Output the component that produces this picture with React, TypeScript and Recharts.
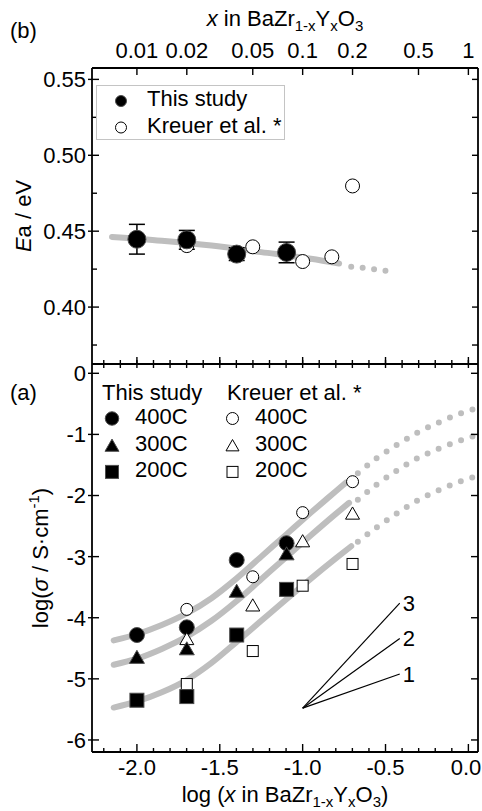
import React from "react";
import { ComposedChart, Line, Scatter, XAxis, YAxis, ErrorBar, Legend } from "recharts";

const W = 482;
const H = 811;
const FONT = "'Liberation Sans', Arial, Helvetica, sans-serif";
const FS = 22;
const GREY = "#bebebe";

// x in BaZr(1-x)Y(x)O3
const studyX = [0.01, 0.02, 0.04, 0.08];
const kreuerEaX = [0.02, 0.05, 0.1, 0.15, 0.2];
const kreuerSigX = [0.02, 0.05, 0.1, 0.2];

// (b) activation energy / eV
const studyEa = [0.4447, 0.4443, 0.4349, 0.436];
const studyEaErr = [0.0098, 0.0062, 0.0042, 0.0068];
const kreuerEa = [0.4405, 0.4397, 0.43, 0.4331, 0.4798];

// (b) grey guide line (log x)
const eaFitX = [-2.15, -1.85, -1.55, -1.25, -0.95, -0.78];
const eaFit = [0.4462, 0.4437, 0.4405, 0.4362, 0.4318, 0.4287];
const eaDotX = [-0.707, -0.6, -0.49];
const eaDot = [0.4266, 0.4254, 0.4237];

// (a) log(sigma / S cm-1)
const study400 = [-4.283, -4.157, -3.056, -2.78];
const study300 = [-4.64, -4.5, -3.558, -2.946];
const study200 = [-5.35, -5.29, -4.283, -3.536];
const kreuer400 = [-3.863, -3.33, -2.28, -1.774];
const kreuer300 = [-4.34, -3.79, -2.74, -2.287];
const kreuer200 = [-5.085, -4.545, -3.476, -3.12];

// (a) grey fits, solid part
const fit400X = [-2.14, -2.0, -1.85, -1.7, -1.55, -1.4, -1.25, -1.1, -0.95, -0.8, -0.74];
const fit400 = [-4.37, -4.27, -4.12, -3.93, -3.68, -3.36, -3.0, -2.64, -2.28, -1.93, -1.79];
const fit300X = [-2.14, -2.0, -1.85, -1.7, -1.55, -1.4, -1.25, -1.1, -0.95, -0.8, -0.72];
const fit300 = [-4.77, -4.67, -4.51, -4.31, -4.05, -3.73, -3.37, -3.01, -2.65, -2.3, -2.12];
const fit200X = [-2.14, -2.0, -1.85, -1.7, -1.55, -1.4, -1.25, -1.1, -0.95, -0.8, -0.707];
const fit200 = [-5.47, -5.37, -5.22, -5.02, -4.74, -4.4, -4.05, -3.7, -3.36, -3.03, -2.83];

// (a) grey fits, dotted extrapolation
const dotX = [-0.667, -0.553, -0.43, -0.3, -0.175, -0.05, 0.04];
const dot400 = [-1.637, -1.39, -1.17, -0.96, -0.8, -0.66, -0.58];
const dot300 = [-2.07, -1.82, -1.59, -1.38, -1.23, -1.1, -1.02];
const dot200 = [-2.756, -2.52, -2.29, -2.07, -1.91, -1.77, -1.69];

// slope guide (1, 2, 3)
const slopeTags = ["1", "2", "3"];
const slopeFrom = { x: -1.0, y: -5.48 };
const slopeEndX = -0.414;
const slopeEndY = [-4.92, -4.34, -3.76];

// ticks
const xMajor = [-2.0, -1.5, -1.0, -0.5, 0.0];
const xMinor = [-2.2, -2.1, -1.9, -1.8, -1.7, -1.6, -1.4, -1.3, -1.2, -1.1, -0.9, -0.8, -0.7, -0.6, -0.4, -0.3, -0.2, -0.1];
const topLabels = ["0.01", "0.02", "0.05", "0.1", "0.2", "0.5", "1"];
const eaMajor = [0.4, 0.45, 0.5, 0.55];
const eaMinor = [0.375, 0.425, 0.475, 0.525];
const sigMajor = [0, -1, -2, -3, -4, -5, -6];

const X_DOMAIN: [number, number] = [-2.271, 0.058];
const EA_DOMAIN: [number, number] = [0.3625, 0.5575];
const SIG_DOMAIN: [number, number] = [-6.197, 0.152];

const topTickPos = topLabels.map((s) => Math.log10(Number(s)));
const xAll = [...xMajor, ...xMinor].sort((a, b) => a - b);

const pts = (xs: number[], ys: number[]) => xs.map((x, i) => ({ x, y: ys[i] }));
const logPts = (xs: number[], ys: number[], errs?: number[]) =>
  xs.map((x, i) => ({ x: Math.log10(x), y: ys[i], err: errs ? errs[i] : 0 }));

const isOn = (list: number[], v: number) => list.some((m) => Math.abs(m - v) < 1e-9);

function makeTick(side: string, major: number[], opt: any) {
  return function Tick(p: any) {
    const { x, y, payload, index } = p;
    const v = Number(payload.value);
    const big = isOn(major, v);
    const inn = big ? opt.majorIn : opt.minorIn;
    const out = big ? opt.majorOut || 0 : opt.minorOut || 0;
    const txt = big && opt.label ? opt.label(v, index) : "";
    let line;
    let text = null;
    const ts = { fontFamily: FONT, fontSize: FS, fill: "#000" };
    if (side === "bottom") {
      line = <line x1={x} x2={x} y1={y + out} y2={y - inn} />;
      // keep the last label inside the picture
      if (txt) text = <text x={Math.min(x, W - 16)} y={y + 23} textAnchor="middle" {...ts}>{txt}</text>;
    } else if (side === "top") {
      line = <line x1={x} x2={x} y1={y - out} y2={y + inn} />;
      if (txt) text = <text x={x} y={y - 10} textAnchor="middle" {...ts}>{txt}</text>;
    } else if (side === "left") {
      line = <line x1={x - out} x2={x + inn} y1={y} y2={y} />;
      if (txt) text = <text x={x - 6} y={y} dy="0.36em" textAnchor="end" {...ts}>{txt}</text>;
    } else {
      line = <line x1={x + out} x2={x - inn} y1={y} y2={y} />;
    }
    return (
      <g>
        <g stroke="#000" strokeWidth={1.4}>{line}</g>
        {text}
      </g>
    );
  };
}

function Marker({ kind, filled, cx, cy, s }: any) {
  const fill = filled ? "#000" : "#fff";
  const stroke = filled ? "#4d4d4d" : "#000";
  if (kind === "circle") return <circle cx={cx} cy={cy} r={s / 2} fill={fill} stroke={stroke} strokeWidth={1} />;
  if (kind === "square")
    return <rect x={cx - s / 2} y={cy - s / 2} width={s} height={s} fill={fill} stroke={stroke} strokeWidth={1} />;
  const h = s * 0.87;
  const p = `${cx},${cy - h / 2} ${cx - s / 2},${cy + h / 2} ${cx + s / 2},${cy + h / 2}`;
  return <polygon points={p} fill={fill} stroke={stroke} strokeWidth={1} />;
}

const shape = (kind: string, filled: boolean, s: number) => (p: any) =>
  <Marker kind={kind} filled={filled} s={s} cx={p.cx} cy={p.cy} />;

const frame = { stroke: "#000", strokeWidth: 1.8 };
const axisCommon = {
  type: "number" as const,
  allowDataOverflow: true,
  tickSize: 0,
  tickMargin: 0,
  tickLine: false,
  interval: 0 as const,
  axisLine: frame,
};

function EaLegend() {
  const t = { fontFamily: FONT, fontSize: FS, fill: "#000" };
  return (
    <div style={{ width: 187, height: 53, border: "1px solid #c4c4c4", background: "#fff" }}>
      <svg width={187} height={53}>
        <Marker kind="circle" filled cx={24} cy={15} s={11} />
        <text x={50} y={20} {...t}>This study</text>
        <Marker kind="circle" filled={false} cx={24} cy={41.5} s={11} />
        <text x={50} y={46.5} {...t}>Kreuer et al. *</text>
      </svg>
    </div>
  );
}

function SigmaLegend() {
  const t = { fontFamily: FONT, fontSize: FS, fill: "#000" };
  const rows = ["400C", "300C", "200C"];
  const kinds = ["circle", "triangle", "square"];
  const filledSize = [13.5, 14, 13];
  const openSize = [12, 13, 11];
  return (
    <svg width={290} height={110}>
      <text x={6} y={22} {...t}>This study</text>
      <text x={131} y={22} {...t}>Kreuer et al. *</text>
      {rows.map((r, i) => (
        <g key={r}>
          <Marker kind={kinds[i]} filled cx={16} cy={40.5 + i * 26.7} s={filledSize[i]} />
          <text x={39} y={46 + i * 26.7} {...t}>{r}</text>
          <Marker kind={kinds[i]} filled={false} cx={136.5} cy={40.5 + i * 26.7} s={openSize[i]} />
          <text x={159} y={46 + i * 26.7} {...t}>{r}</text>
        </g>
      ))}
    </svg>
  );
}

function EaPanel() {
  return (
    <ComposedChart width={W} height={H} margin={{ top: 67, right: 3, bottom: H - 364 - 1, left: 91 }}>
      <XAxis
        {...axisCommon}
        xAxisId="top"
        orientation="top"
        dataKey="x"
        height={1}
        domain={X_DOMAIN}
        ticks={topTickPos}
        tick={makeTick("top", topTickPos, { majorIn: 7, label: (_v: number, i: number) => topLabels[i] })}
      />
      <XAxis
        {...axisCommon}
        xAxisId="bot"
        orientation="bottom"
        dataKey="x"
        height={1}
        domain={X_DOMAIN}
        ticks={xMajor}
        tick={makeTick("bottom", xMajor, { majorIn: 7 })}
      />
      <YAxis
        {...axisCommon}
        yAxisId="l"
        orientation="left"
        dataKey="y"
        width={1}
        domain={EA_DOMAIN}
        ticks={[...eaMajor, ...eaMinor]}
        tick={makeTick("left", eaMajor, { majorIn: 7, majorOut: 4, minorIn: 5, label: (v: number) => v.toFixed(2) })}
      />
      <YAxis
        {...axisCommon}
        yAxisId="r"
        orientation="right"
        dataKey="y"
        width={1}
        domain={EA_DOMAIN}
        ticks={[...eaMajor, ...eaMinor]}
        tick={makeTick("right", eaMajor, { majorIn: 6, minorIn: 6 })}
      />
      <Line
        xAxisId="bot"
        yAxisId="l"
        data={pts(eaFitX, eaFit)}
        dataKey="y"
        type="monotone"
        stroke={GREY}
        strokeWidth={6}
        strokeLinecap="round"
        dot={false}
        isAnimationActive={false}
      />
      <Line
        xAxisId="bot"
        yAxisId="l"
        data={pts(eaDotX, eaDot)}
        dataKey="y"
        type="monotone"
        stroke={GREY}
        strokeWidth={6}
        strokeLinecap="round"
        strokeDasharray="0 11.5"
        dot={false}
        isAnimationActive={false}
      />
      <Scatter
        xAxisId="bot"
        yAxisId="l"
        data={logPts(kreuerEaX, kreuerEa)}
        shape={shape("circle", false, 14)}
        isAnimationActive={false}
      />
      <Scatter
        xAxisId="bot"
        yAxisId="l"
        data={logPts(studyX, studyEa, studyEaErr)}
        shape={shape("circle", true, 18)}
        isAnimationActive={false}
      >
        <ErrorBar dataKey="err" direction="y" width={8} stroke="#000" strokeWidth={1.5} isAnimationActive={false} />
      </Scatter>
      <Legend
        layout="vertical"
        align="center"
        verticalAlign="middle"
        content={() => <EaLegend />}
        wrapperStyle={{ left: 96, top: 85, width: "auto", height: "auto" }}
      />
    </ComposedChart>
  );
}

function SigmaPanel() {
  const fitLine = (xs: number[], ys: number[], dotted: boolean, key: string) => (
    <Line
      key={key}
      xAxisId="bot"
      yAxisId="l"
      data={pts(xs, ys)}
      dataKey="y"
      type="monotone"
      stroke={GREY}
      strokeWidth={6}
      strokeLinecap="round"
      strokeDasharray={dotted ? "0 12" : undefined}
      dot={false}
      isAnimationActive={false}
    />
  );
  const sc = (xs: number[], ys: number[], kind: string, filled: boolean, s: number, key: string) => (
    <Scatter
      key={key}
      xAxisId="bot"
      yAxisId="l"
      data={logPts(xs, ys)}
      shape={shape(kind, filled, s)}
      isAnimationActive={false}
    />
  );
  const slopeEnds = slopeEndY.map((y, i) => ({ x: slopeEndX, y, tag: slopeTags[i] }));
  return (
    <ComposedChart width={W} height={H} margin={{ top: 363, right: 3, bottom: H - 752 - 1, left: 91 }}>
      <XAxis
        {...axisCommon}
        xAxisId="top"
        orientation="top"
        dataKey="x"
        height={1}
        domain={X_DOMAIN}
        ticks={xAll}
        tick={makeTick("top", xMajor, { majorIn: 4, majorOut: 4, minorIn: 4, minorOut: 4 })}
      />
      <XAxis
        {...axisCommon}
        xAxisId="bot"
        orientation="bottom"
        dataKey="x"
        height={1}
        domain={X_DOMAIN}
        ticks={xAll}
        tick={makeTick("bottom", xMajor, { majorIn: 8, minorIn: 4, label: (v: number) => v.toFixed(1) })}
      />
      <YAxis
        {...axisCommon}
        yAxisId="l"
        orientation="left"
        dataKey="y"
        width={1}
        domain={SIG_DOMAIN}
        ticks={sigMajor}
        tick={makeTick("left", sigMajor, { majorIn: 7, majorOut: 4, label: (v: number) => String(v) })}
      />
      <YAxis
        {...axisCommon}
        yAxisId="r"
        orientation="right"
        dataKey="y"
        width={1}
        domain={SIG_DOMAIN}
        ticks={sigMajor}
        tick={makeTick("right", sigMajor, { majorIn: 7 })}
      />
      {fitLine(fit400X, fit400, false, "f4")}
      {fitLine(fit300X, fit300, false, "f3")}
      {fitLine(fit200X, fit200, false, "f2")}
      {fitLine(dotX, dot400, true, "d4")}
      {fitLine(dotX, dot300, true, "d3")}
      {fitLine(dotX, dot200, true, "d2")}
      {slopeEndY.map((y, i) => (
        <Line
          key={"s" + i}
          xAxisId="bot"
          yAxisId="l"
          data={[slopeFrom, { x: slopeEndX, y }]}
          dataKey="y"
          type="linear"
          stroke="#000"
          strokeWidth={1.2}
          dot={false}
          isAnimationActive={false}
        />
      ))}
      <Scatter
        xAxisId="bot"
        yAxisId="l"
        data={slopeEnds}
        isAnimationActive={false}
        shape={(p: any) => (
          <text x={p.cx + 3} y={p.cy} dy="0.36em" fontFamily={FONT} fontSize={FS} fill="#000">
            {p.payload.tag}
          </text>
        )}
      />
      {sc(kreuerSigX, kreuer400, "circle", false, 12, "k4")}
      {sc(studyX, study400, "circle", true, 15, "t4")}
      {sc(kreuerSigX, kreuer300, "triangle", false, 14, "k3")}
      {sc(studyX, study300, "triangle", true, 15, "t3")}
      {sc(kreuerSigX, kreuer200, "square", false, 11, "k2")}
      {sc(studyX, study200, "square", true, 14, "t2")}
      <Legend
        layout="vertical"
        align="center"
        verticalAlign="middle"
        content={() => <SigmaLegend />}
        wrapperStyle={{ left: 96, top: 378, width: "auto", height: "auto" }}
      />
    </ComposedChart>
  );
}

function Titles() {
  const t = { fontFamily: FONT, fontSize: FS, fill: "#000" };
  return (
    <svg width={W} height={H} style={{ position: "absolute", left: 0, top: 0, pointerEvents: "none" }}>
      <text x={10} y={37.5} {...t}>(b)</text>
      <text x={10} y={400} {...t}>(a)</text>
      <text x={285} y={26} textAnchor="middle" {...t}>
        <tspan fontStyle="italic">x</tspan> in BaZr
        <tspan fontSize={15} dy={5}>1-x</tspan>
        <tspan dy={-5}>Y</tspan>
        <tspan fontSize={15} dy={5}>x</tspan>
        <tspan dy={-5}>O</tspan>
        <tspan fontSize={15} dy={5}>3</tspan>
      </text>
      <text x={285} y={802} textAnchor="middle" {...t}>
        log (<tspan fontStyle="italic">x</tspan> in BaZr
        <tspan fontSize={15} dy={5}>1-x</tspan>
        <tspan dy={-5}>Y</tspan>
        <tspan fontSize={15} dy={5}>x</tspan>
        <tspan dy={-5}>O</tspan>
        <tspan fontSize={15} dy={5}>3</tspan>
        <tspan dy={-5}>)</tspan>
      </text>
      <text x={31} y={216} textAnchor="middle" transform="rotate(-90 31 216)" {...t}>
        <tspan fontStyle="italic">E</tspan>a / eV
      </text>
      <text x={48} y={558} textAnchor="middle" transform="rotate(-90 48 558)" {...t}>
        log(<tspan fontStyle="italic">σ</tspan> / S·cm
        <tspan fontSize={15} dy={-9}>-1</tspan>
        <tspan dy={9}>)</tspan>
      </text>
    </svg>
  );
}

export default function App() {
  return (
    <div style={{ position: "absolute", left: 0, top: 0, width: W, height: H, background: "#fff", overflow: "hidden" }}>
      <div style={{ position: "absolute", left: 0, top: 0 }}>
        <EaPanel />
      </div>
      <div style={{ position: "absolute", left: 0, top: 0 }}>
        <SigmaPanel />
      </div>
      <Titles />
    </div>
  );
}
